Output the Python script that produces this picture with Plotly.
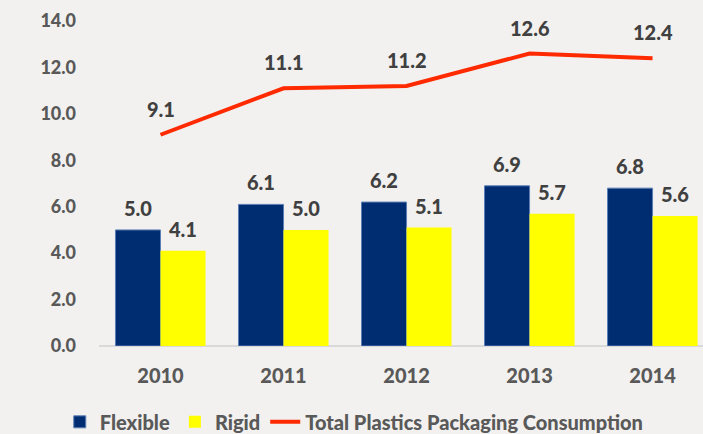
import plotly.graph_objects as go

years = ["2010", "2011", "2012", "2013", "2014"]
flexible = [5.0, 6.1, 6.2, 6.9, 6.8]
rigid = [4.1, 5.0, 5.1, 5.7, 5.6]
total = [9.1, 11.1, 11.2, 12.6, 12.4]
y_ticks = [0, 2, 4, 6, 8, 10, 12, 14]

FONT = "Lato Black, Lato, sans-serif"
LABEL_COLOR = "#404040"
AXIS_COLOR = "#595959"
BAR_OFFSET = 0.183  # half of a single bar's width, in category units

fig = go.Figure()
fig.add_trace(go.Bar(
    x=years, y=flexible, name="Flexible",
    marker=dict(color="#002d72", line=dict(color="#5b7fb5", width=1)),
))
fig.add_trace(go.Bar(
    x=years, y=rigid, name="Rigid",
    marker=dict(color="#ffff00", line=dict(width=0)),
))
fig.add_trace(go.Scatter(
    x=years, y=total, name="Total Plastics Packaging Consumption",
    mode="lines", line=dict(color="#ff2a00", width=4),
    cliponaxis=False,
))

# value labels
label_font = dict(family=FONT, size=20, color=LABEL_COLOR)
for i, yr in enumerate(years):
    fig.add_annotation(x=i - BAR_OFFSET, y=flexible[i], xref="x", yref="y",
                       text=f"{flexible[i]:.1f}", showarrow=False,
                       yanchor="middle", yshift=22, font=label_font)
    fig.add_annotation(x=i + BAR_OFFSET, y=rigid[i], xref="x", yref="y",
                       text=f"{rigid[i]:.1f}", showarrow=False,
                       yanchor="middle", yshift=22, font=label_font)
    fig.add_annotation(x=i, y=total[i], xref="x", yref="y",
                       text=f"{total[i]:.1f}", showarrow=False,
                       yanchor="middle", yshift=26, font=label_font)

fig.update_layout(
    width=703, height=434,
    margin=dict(l=99, r=0, t=21, b=88, autoexpand=False),
    paper_bgcolor="#f2f1ef", plot_bgcolor="#f2f1ef",
    barmode="group", bargap=0.268, bargroupgap=0,
    font=dict(family=FONT, color=AXIS_COLOR),
    showlegend=True,
    legend=dict(orientation="h", x=0.085, xref="container", y=0.028, yref="container",
                xanchor="left", yanchor="middle",
                font=dict(family=FONT, size=20, color=AXIS_COLOR),
                itemwidth=30, tracegroupgap=0, bgcolor="rgba(0,0,0,0)"),
    xaxis=dict(range=[-0.5, 4.41], showgrid=False, showline=False, zeroline=False,
               ticks="", tickfont=dict(family=FONT, size=20, color=AXIS_COLOR),
               ticklabelstandoff=16),
    yaxis=dict(range=[0, 14], tickvals=y_ticks, ticktext=[f"{v:.1f}" for v in y_ticks],
               showgrid=False, zeroline=True, zerolinecolor="#d9d9d9", zerolinewidth=1.5,
               showline=False, ticks="", ticklabelstandoff=22,
               tickfont=dict(family=FONT, size=18, color=AXIS_COLOR)),
)

fig.write_html("out.html")
